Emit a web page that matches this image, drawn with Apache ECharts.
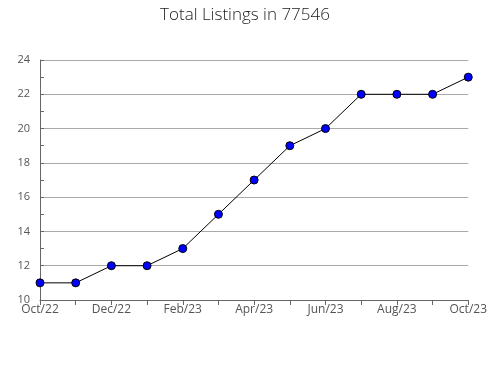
<!DOCTYPE html>
<html><head><meta charset="utf-8">
<script src="https://cdn.jsdelivr.net/npm/echarts@6/dist/echarts.min.js"></script>
<style>html,body{margin:0;padding:0;background:#fff}#c{width:490px;height:380px}</style>
</head><body><div id="c"></div>
<script>
const categories = ['Oct/22','Nov/22','Dec/22','Jan/23','Feb/23','Mar/23','Apr/23','May/23','Jun/23','Jul/23','Aug/23','Sep/23','Oct/23'];
const listings = [11,11,12,12,13,15,17,19,20,22,22,22,23];
const yTicks = {min:10, max:24, interval:2};

const chart = echarts.init(document.getElementById('c'));
chart.setOption({
  animation:false,
  title:{text:'Total Listings in 77546',left:'center',top:2,textStyle:{fontFamily:'Open Sans',fontSize:17,fontWeight:300,color:'#222'}},
  grid:{left:40,right:19,top:60,bottom:80},
  xAxis:{type:'category',data:categories,boundaryGap:false,
    axisLine:{lineStyle:{color:'#666'}},
    axisTick:{show:true,interval:0,length:5,lineStyle:{color:'#666'}},
    axisLabel:{interval:1,color:'#555',fontFamily:'Open Sans',fontSize:12,margin:4},
    splitLine:{show:false}},
  yAxis:{type:'value',min:yTicks.min,max:yTicks.max,interval:yTicks.interval,
    axisLine:{show:true,lineStyle:{color:'#666'}},
    axisTick:{show:true,inside:true,length:4,lineStyle:{color:'#666'}},
    minorTick:{show:true,splitNumber:2,length:4,lineStyle:{color:'#666'}},
    axisLabel:{color:'#555',fontFamily:'Open Sans',fontSize:11,margin:10},
    splitLine:{show:true,lineStyle:{color:'#aaa',width:1}}},
  series:[{type:'line',data:listings,symbol:'circle',symbolSize:8,
    lineStyle:{color:'#000',width:1},
    itemStyle:{color:'#0000ff',borderColor:'#000',borderWidth:1}}]
});
</script></body></html>
